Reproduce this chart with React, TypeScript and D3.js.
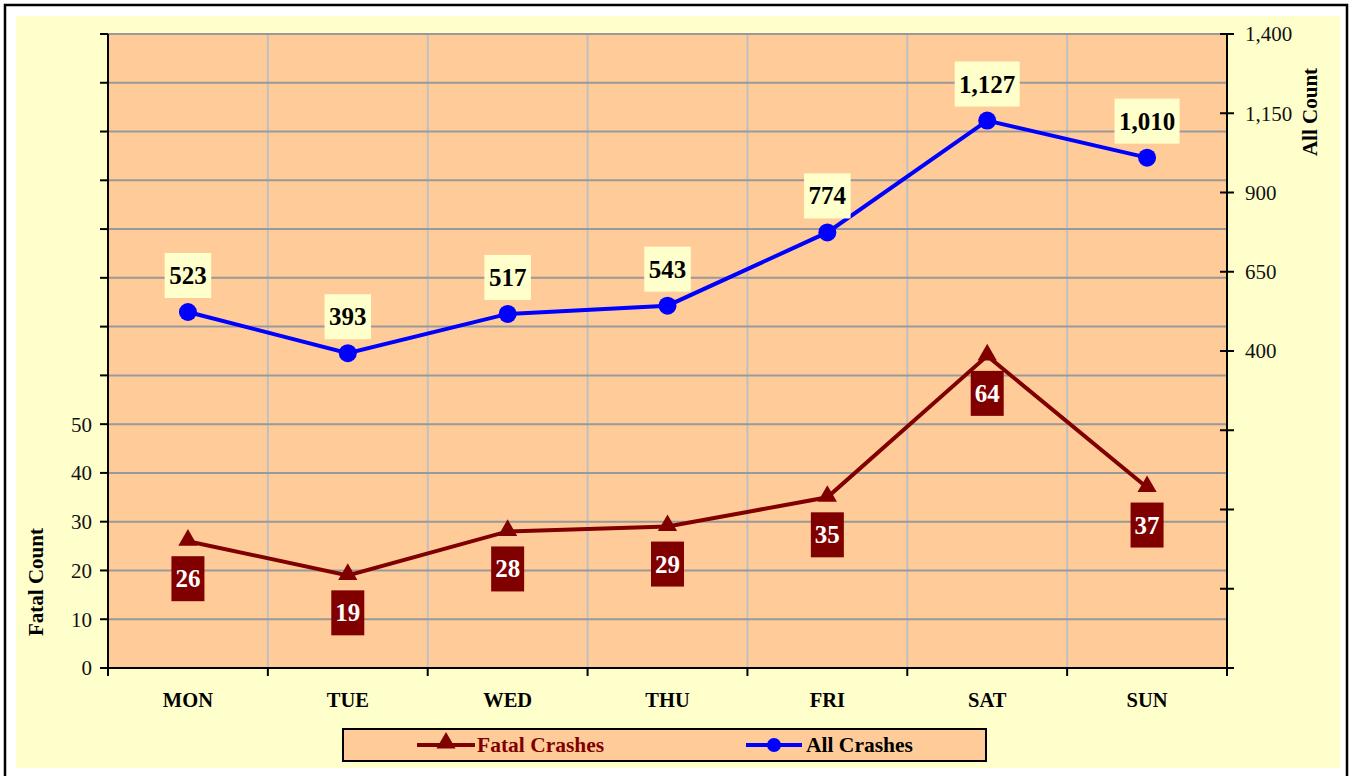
import React from 'react';
import * as d3 from 'd3';

const days = ['MON', 'TUE', 'WED', 'THU', 'FRI', 'SAT', 'SUN'];
const fatalCrashes = [26, 19, 28, 29, 35, 64, 37];
const allCrashes = [523, 393, 517, 543, 774, 1127, 1010];
const leftTicks = [0, 10, 20, 30, 40, 50, 60, 70, 80, 90, 100, 110, 120, 130];
const leftLabels = [0, 10, 20, 30, 40, 50];
const rightTicks = [-600, -350, -100, 150, 400, 650, 900, 1150, 1400];
const rightLabels = [400, 650, 900, 1150, 1400];

const W = 1352;
const H = 776;
const serif = '"Liberation Serif", "Times New Roman", serif';

export default function App() {
  const margin = { top: 34, right: 125, bottom: 108, left: 108 };
  const plotW = W - margin.left - margin.right;
  const plotH = H - margin.top - margin.bottom;

  const x = d3.scaleBand().domain(days).range([0, plotW]).padding(0);
  const yL = d3.scaleLinear().domain([0, 130]).range([plotH, 0]);
  const yR = d3.scaleLinear().domain([-600, 1400]).range([plotH, 0]);
  const cx = (d: string) => x(d)! + x.bandwidth() / 2;

  const fatalLine = d3.line<number>()
    .x((_, i) => cx(days[i]))
    .y(d => yL(d));
  const allLine = d3.line<number>()
    .x((_, i) => cx(days[i]))
    .y(d => yR(d));
  const tri = d3.symbol().type(d3.symbolTriangle).size(160)()!;
  const fmt = d3.format(',');
  const boundaries = days.map(d => x(d)!).concat([plotW]);
  // rough label width for 25px bold serif
  const labelW = (s: string) => s.replace(/,/g, '').length * 12.5 + (s.includes(',') ? 6 : 0) + 9;

  return (
    <svg width={W} height={H} style={{ position: 'absolute', left: 0, top: 0 }} fontFamily={serif}>
      <rect x={0} y={0} width={W} height={H} fill="#ffffff" />
      <rect x={5} y={5} width={1342} height={800} fill="#ffffff" stroke="#000" strokeWidth={2.5} />
      <rect x={16} y={16} width={1324} height={752} fill="#FFFFCC" />

      <g transform={`translate(${margin.left},${margin.top})`}>
        <rect x={0} y={0} width={plotW} height={plotH} fill="#FFCC99" />

        {/* Grid lines */}
        {boundaries.slice(1, -1).map((b, i) => (
          <line key={'v' + i} x1={b} x2={b} y1={0} y2={plotH} stroke="#C0C0C0" strokeWidth={2} />
        ))}
        {leftTicks.slice(1).map(t => (
          <line key={'h' + t} x1={0} x2={plotW} y1={yL(t)} y2={yL(t)} stroke="#999999" strokeWidth={2} />
        ))}

        {/* Left axis */}
        <line x1={0} x2={0} y1={0} y2={plotH + 8} stroke="#000" strokeWidth={2} />
        {leftTicks.map(t => (
          <line key={'lt' + t} x1={-8} x2={0} y1={yL(t)} y2={yL(t)} stroke="#000" strokeWidth={2} />
        ))}
        {leftLabels.map(t => (
          <text key={'ll' + t} x={-16} y={yL(t)} dy="0.35em" textAnchor="end" fontSize={21} fill="#111">{t}</text>
        ))}

        {/* Right axis */}
        <line x1={plotW} x2={plotW} y1={0} y2={plotH + 8} stroke="#000" strokeWidth={2} />
        {rightTicks.map(t => (
          <line key={'rt' + t} x1={plotW - 7} x2={plotW + 7} y1={yR(t)} y2={yR(t)} stroke="#000" strokeWidth={2} />
        ))}
        {rightLabels.map(t => (
          <text key={'rl' + t} x={plotW + 18} y={yR(t)} dy="0.35em" textAnchor="start" fontSize={21} fill="#111">{fmt(t)}</text>
        ))}

        {/* Bottom axis */}
        <line x1={0} x2={plotW} y1={plotH} y2={plotH} stroke="#000" strokeWidth={2} />
        {boundaries.map((b, i) => (
          <line key={'bt' + i} x1={b} x2={b} y1={plotH} y2={plotH + 8} stroke="#000" strokeWidth={2} />
        ))}
        {days.map(d => (
          <text key={'xl' + d} x={cx(d)} y={plotH + 39} textAnchor="middle" fontSize={20.5} fontWeight="bold" fill="#000">{d}</text>
        ))}

        {/* Axis titles */}
        <text transform={`translate(${43 - margin.left},${582 - margin.top}) rotate(-90)`} textAnchor="middle" fontSize={21} fontWeight="bold">Fatal Count</text>
        <text transform={`translate(${1317 - margin.left},${112 - margin.top}) rotate(-90)`} textAnchor="middle" fontSize={21} fontWeight="bold">All Count</text>

        {/* Fatal crashes */}
        <path d={fatalLine(fatalCrashes)!} fill="none" stroke="#800000" strokeWidth={4} />
        {fatalCrashes.map((v, i) => (
          <path key={'ft' + i} d={tri} transform={`translate(${cx(days[i])},${yL(v) - 1})`} fill="#800000" />
        ))}
        {fatalCrashes.map((v, i) => {
          const label = String(v);
          const w = labelW(label) - 1;
          const top = yL(v) + 15;
          return (
            <g key={'fl' + i}>
              <rect x={cx(days[i]) - w / 2} y={top} width={w} height={45} fill="#800000" />
              <text x={cx(days[i])} y={top + 31} textAnchor="middle" fontSize={25} fontWeight="bold" fill="#ffffff">{label}</text>
            </g>
          );
        })}

        {/* All crashes */}
        <path d={allLine(allCrashes)!} fill="none" stroke="#0000FF" strokeWidth={4} />
        {allCrashes.map((v, i) => (
          <circle key={'ac' + i} cx={cx(days[i])} cy={yR(v)} r={9} fill="#0000FF" />
        ))}
        {allCrashes.map((v, i) => {
          const label = fmt(v);
          const w = labelW(label);
          const top = yR(v) - 59;
          return (
            <g key={'al' + i}>
              <rect x={cx(days[i]) - w / 2} y={top} width={w} height={45} fill="#FFFFCC" />
              <text x={cx(days[i])} y={top + 31} textAnchor="middle" fontSize={25} fontWeight="bold" fill="#000">{label}</text>
            </g>
          );
        })}
      </g>

      {/* Legend */}
      <g>
        <rect x={343} y={729} width={643} height={32} fill="#FFCC99" stroke="#000" strokeWidth={2} />
        <line x1={417} x2={475} y1={745} y2={745} stroke="#800000" strokeWidth={4} />
        <path d={tri} transform="translate(446,743)" fill="#800000" />
        <text x={477} y={752} fontSize={21.5} fontWeight="bold" fill="#800000">Fatal Crashes</text>
        <line x1={746} x2={802} y1={745} y2={745} stroke="#0000FF" strokeWidth={4} />
        <circle cx={774} cy={745} r={7} fill="#0000FF" />
        <text x={806} y={752} fontSize={21.5} fontWeight="bold" fill="#000">All Crashes</text>
      </g>
    </svg>
  );
}
